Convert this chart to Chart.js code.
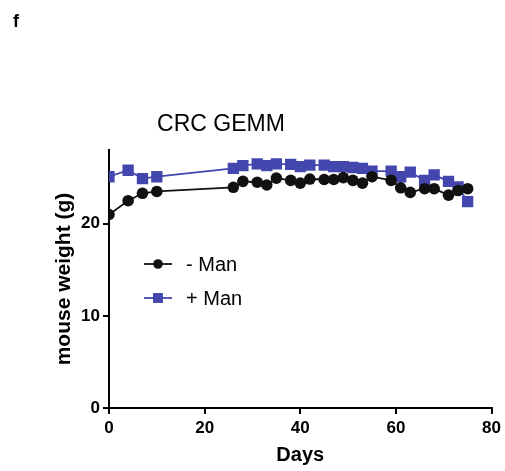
<!DOCTYPE html>
<html>
<head>
<meta charset="utf-8">
<script src="https://cdn.jsdelivr.net/npm/chart.js@4"></script>
<style>
  html, body { margin: 0; padding: 0; background: #fff; }
  #wrap { width: 505px; height: 471px; position: relative; }
</style>
</head>
<body>
<div id="wrap"><canvas id="grafico"></canvas></div>
<script>
const dias = [0, 4, 7, 10, 26, 28, 31, 33, 35, 38, 40, 42, 45, 47, 49, 51, 53, 55, 59, 61, 63, 66, 68, 71, 73, 75];
const sinMan = [21.0, 22.5, 23.3, 23.5, 23.95, 24.6, 24.5, 24.2, 24.95, 24.7, 24.4, 24.85, 24.8, 24.8, 25.0, 24.7, 24.4, 25.1, 24.7, 23.9, 23.4, 23.8, 23.8, 23.1, 23.6, 23.8];
const conMan = [25.1, 25.8, 24.9, 25.1, 26.0, 26.3, 26.5, 26.3, 26.5, 26.45, 26.2, 26.35, 26.35, 26.2, 26.2, 26.1, 26.0, 25.7, 25.7, 25.1, 25.6, 24.7, 25.3, 24.6, 24.0, 22.4];
const ticksX = [0, 20, 40, 60, 80];
const ticksY = [0, 10, 20];

const NEGRO = "#111111";
const AZUL = "#4347ad";
const FUENTE = "'Liberation Sans', Arial, sans-serif";

const series = [
  { label: "- Man", valores: sinMan, color: NEGRO, estilo: "circle", radio: 5.8, orden: 0 },
  { label: "+ Man", valores: conMan, color: AZUL, estilo: "rect", radio: 8, orden: 1 }
];

// textos fijos y leyenda dentro del area
const extras = {
  id: "extras",
  afterDraw(chart) {
    const ctx = chart.ctx;
    ctx.save();
    ctx.fillStyle = "#000";
    ctx.font = "bold 18px " + FUENTE;
    ctx.textBaseline = "alphabetic";
    ctx.fillText("f", 13, 27);
    ctx.font = "23px " + FUENTE;
    ctx.textAlign = "center";
    ctx.fillText("CRC GEMM", 221, 131);

    ctx.textAlign = "left";
    ctx.textBaseline = "middle";
    ctx.font = "20px " + FUENTE;
    series.forEach((s, i) => {
      const y = 264 + i * 34;
      ctx.strokeStyle = s.color;
      ctx.lineWidth = 1.8;
      ctx.beginPath();
      ctx.moveTo(144, y);
      ctx.lineTo(172, y);
      ctx.stroke();
      ctx.fillStyle = s.color;
      Chart.helpers.drawPoint(ctx, { pointStyle: s.estilo, radius: s.estilo === "rect" ? 7 : 4.8, rotation: 0, borderWidth: 0 }, 158, y);
      ctx.fillStyle = "#000";
      ctx.fillText(s.label, 186, y + 1);
    });
    ctx.restore();
  }
};

new Chart(document.getElementById("grafico"), {
  type: "line",
  data: {
    datasets: series.map(s => ({
      label: s.label,
      data: dias.map((d, i) => ({ x: d, y: s.valores[i] })),
      borderColor: s.color,
      backgroundColor: s.color,
      pointBackgroundColor: s.color,
      pointBorderWidth: 0,
      pointStyle: s.estilo,
      pointRadius: s.radio,
      borderWidth: 1.8,
      order: s.orden
    }))
  },
  options: {
    responsive: true,
    maintainAspectRatio: false,
    animation: false,
    layout: { padding: { top: 150, right: 13, left: 48, bottom: 0 } },
    plugins: { legend: { display: false }, tooltip: { enabled: false } },
    scales: {
      x: {
        type: "linear",
        min: 0,
        max: 80,
        afterBuildTicks: sc => { sc.ticks = ticksX.map(v => ({ value: v })); },
        afterFit: sc => { sc.height = 63; },
        border: { color: "#000", width: 2 },
        grid: { drawOnChartArea: false, drawTicks: true, tickLength: 6, color: "#000", lineWidth: 2 },
        ticks: { color: "#000", font: { family: FUENTE, size: 17, weight: "bold" }, padding: 4 },
        title: { display: true, text: "Days", color: "#000", font: { family: FUENTE, size: 20, weight: "bold" }, padding: { top: 7 } }
      },
      y: {
        min: 0,
        max: 28,
        afterBuildTicks: sc => { sc.ticks = ticksY.map(v => ({ value: v })); },
        afterFit: sc => { sc.width = 61; },
        border: { color: "#000", width: 2 },
        grid: { drawOnChartArea: false, drawTicks: true, tickLength: 6, color: "#000", lineWidth: 2 },
        ticks: { color: "#000", font: { family: FUENTE, size: 17, weight: "bold" }, padding: 3 },
        title: { display: true, text: "mouse weight (g)", color: "#000", font: { family: FUENTE, size: 21, weight: "bold" }, padding: { bottom: 8 } }
      }
    }
  },
  plugins: [extras]
});
</script>
</body>
</html>
